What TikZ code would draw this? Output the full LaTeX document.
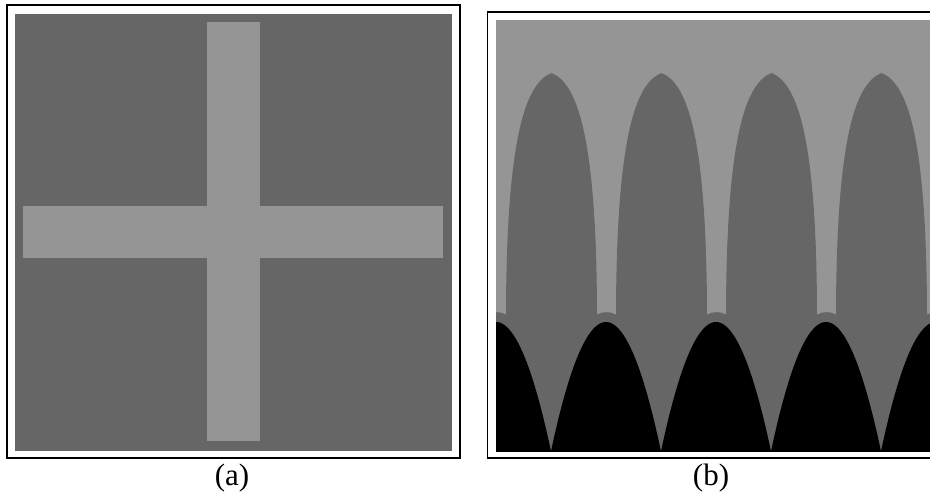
\documentclass[tikz,border=0pt]{standalone}
\usepackage{fontspec}
\setmainfont{Liberation Serif}
\definecolor{dkgray}{gray}{0.40}
\definecolor{ltgray}{gray}{0.585}
\newcommand{\biglbl}{\fontsize{31pt}{36pt}\selectfont}
\tikzset{
  frame/.style={draw=black, line width=1.5pt},
  lbl/.style={inner sep=0pt},
}
\begin{document}
\begin{tikzpicture}[x=1pt, y=-1pt]
\useasboundingbox (0,0) rectangle (930,495);
\fill[white] (0,0) rectangle (930,495);
% ---------- panel (a) ----------
\draw[frame] (7,5) rectangle (460,458);
\fill[dkgray] (15,14) rectangle (452,451);
\fill[ltgray] (207,22) rectangle (260,441);
\fill[ltgray] (23,206) rectangle (443,258);
% ---------- panel (b) ----------
\draw[frame] (930,12) -- (487.5,12) -- (487.5,458) -- (930,458);
\begin{scope}
  \clip (496,20) rectangle (930,451);
  \fill[dkgray] (496,20) rectangle (930,451);
  \fill[ltgray] (496,20) rectangle (930,311);
  \foreach \c in {441.5,551.5,661.5,771.5,881.5}{
    \fill[ltgray] ({\c+45.5},310) -- ({\c+45.5},314.5)
      .. controls ({\c+50},311.3) and ({\c+60},311.3) .. ({\c+64.5},314.5)
      -- ({\c+64.5},310) -- cycle;
  }
  \foreach \c in {551.5,661.5,771.5,881.5}{
    \fill[dkgray] ({\c-45.5},318) -- ({\c-45.5},313)
      .. controls ({\c-45},133) and ({\c-25},83) .. (\c,73)
      .. controls ({\c+25},83) and ({\c+45},133) .. ({\c+45.5},313)
      -- ({\c+45.5},318) -- cycle;
  }
  \foreach \c in {496,606,716,826,936}{
    \fill[black] plot[domain=-56:56, samples=80] ({\c+\x},{322+\x*\x/23.4}) -- cycle;
  }
\end{scope}
% ---------- labels ----------
\node[lbl] (la) at (232,478) {\biglbl (a)};
\node[lbl] (lb) at (711,478) {\biglbl (b)};
\end{tikzpicture}
\end{document}
